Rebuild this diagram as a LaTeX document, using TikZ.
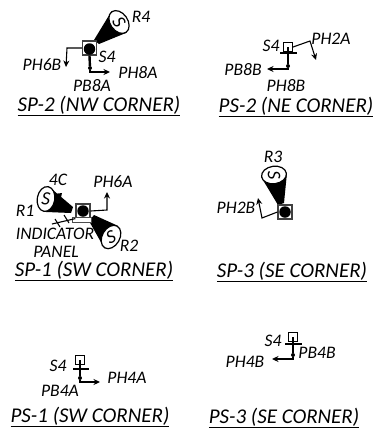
\documentclass[tikz,border=0pt]{standalone}
\usepackage{fontspec}
\setmainfont{Carlito}
\usetikzlibrary{shapes.geometric,backgrounds,arrows.meta}
\tikzset{
  lbl/.style={font=\fontsize{17.6}{19}\selectfont\itshape,inner sep=0pt},
  ttl/.style={font=\fontsize{21}{23}\selectfont\itshape,inner sep=0pt},
  sbig/.style={draw=black!75,line width=1.2pt,minimum size=14pt,inner sep=0pt},
  ssmall/.style={draw=black,line width=1.1pt,minimum size=9pt,inner sep=0pt},
  hole/.style={circle,fill=black,minimum size=11.5pt,inner sep=0pt},
  joint/.style={circle,fill=black,minimum size=4pt,inner sep=0pt},
  horn/.style={ellipse,draw=black,fill=white,line width=1.2pt,minimum width=25pt,minimum height=17.5pt,inner sep=0pt},
  hornS/.style={font=\fontsize{19}{19}\selectfont\itshape,inner sep=0pt},
  wire/.style={draw=black,line width=1.1pt},
  fat/.style={draw=black,line width=2.4pt},
}
\begin{document}
\begin{tikzpicture}[x=1pt,y=-1pt,>={Stealth[length=6.5pt,width=6pt]}]
  \useasboundingbox (0,0) rectangle (374,432);
  % SP-2
  \node[sbig] (sp2) at (89.5,48) {};
  \node[hole] (sp2h) at (89.5,49) {};
  \node[horn,rotate=-55] (r4h) at (119,22) {};
  \node[hornS,rotate=-60] (r4s) at (119,22) {S};
  \coordinate (r4a) at (94,40);
  \coordinate (r4b) at (99,44);
  \begin{scope}[on background layer]
    \fill (r4h.east) -- (r4b) -- (r4a) -- (r4h.west) -- cycle;
  \end{scope}
  \coordinate (ph6bb) at (67,48);
  \coordinate (ph6be) at (66,67);
  \draw[wire,->] (sp2.west) -- (ph6bb) -- (ph6be);
  \node[joint] (sp2j) at (90,68) {};
  \coordinate (ph8ae) at (110,72);
  \draw[fat] (sp2.south) -- (sp2j);
  \draw[wire,->] (sp2j) |- (ph8ae);
  \node[lbl] (r4) at (141,17) {R4};
  \node[lbl] (s4a) at (107,57) {S4};
  \node[lbl] (ph6b) at (42,65) {PH6B};
  \node[lbl] (ph8a) at (138,73) {PH8A};
  \node[lbl] (pb8a) at (92,86) {PB8A};
  \node[ttl] (t1) at (99,106) {\underline{SP-2 (NW CORNER)}};
  % PS-2
  \node[ssmall] (ps2) at (288,47) {};
  \coordinate (ps2b) at (280,53);
  \coordinate (ps2c) at (297,53);
  \draw[wire] (ps2b) -- (ps2c);
  \node[joint] (ps2j) at (288,66) {};
  \coordinate (pb8be) at (267,69);
  \draw[fat] (ps2.center) -- (ps2j);
  \draw[wire,->] (ps2j) |- (pb8be);
  \coordinate (ph2ab) at (310,41);
  \coordinate (ph2ae) at (316,60);
  \draw[wire,->] (ps2.east) -- (ph2ab) -- (ph2ae);
  \node[lbl] (s4b) at (271,46) {S4};
  \node[lbl] (ph2a) at (331,39) {PH2A};
  \node[lbl] (pb8b) at (243,70) {PB8B};
  \node[lbl] (ph8b) at (286,86) {PH8B};
  \node[ttl] (t2) at (296,107) {\underline{PS-2 (NE CORNER)}};
  % SP-1
  \node[sbig] (sp1) at (83,211) {};
  \node[hole] (sp1h) at (83,211) {};
  \node[draw=black!70,fill=white,line width=1.1pt,minimum width=19pt,minimum height=5pt,inner sep=0pt] (panel) at (82,220) {};
  \node[horn,rotate=80] (r1h) at (46,199) {};
  \node[hornS,rotate=-5] (r1s) at (46,199) {S};
  \node[horn,rotate=60] (r2h) at (111,237) {};
  \node[hornS,rotate=25] (r2s) at (111,237) {S};
  \coordinate (r1a) at (73,207);
  \coordinate (r1b) at (71,213);
  \coordinate (r2a) at (94,215);
  \coordinate (r2b) at (89,221);
  \coordinate (c4a) at (54,194);
  \coordinate (c4b) at (62,193);
  \coordinate (c4c) at (60,202);
  \begin{scope}[on background layer]
    \fill (r1h.east) -- (r1a) -- (r1b) -- (r1h.west) -- cycle;
    \fill (r2h.east) -- (r2a) -- (r2b) -- (r2h.west) -- cycle;
    \fill (c4a) -- (c4b) -- (c4c) -- cycle;
  \end{scope}
  \coordinate (pnle) at (52,224);
  \draw[wire] (sp1.south west) -- (pnle);
  \draw[wire] (55,219) -- (60,227);
  \draw[wire] (64,215) -- (69,223);
  \coordinate (ph6ab) at (107,210);
  \coordinate (ph6ae) at (107,192);
  \draw[wire,->] (sp1.east) -- (ph6ab) -- (ph6ae);
  \node[lbl] (c4) at (58,180) {4C};
  \node[lbl] (ph6a) at (113,182) {PH6A};
  \node[lbl] (r1) at (25,211) {R1};
  \node[lbl] (ind) at (55,234) {INDICATOR};
  \node[lbl] (pnl) at (56,252) {PANEL};
  \node[lbl] (r2) at (129,246) {R2};
  \node[ttl] (t3) at (94,271) {\underline{SP-1 (SW CORNER)}};
  % SP-3
  \node[sbig] (sp3) at (285,212) {};
  \node[hole] (sp3h) at (285,212) {};
  \node[horn,rotate=8] (r3h) at (274,175) {};
  \node[hornS,rotate=-85] (r3s) at (274,175) {S};
  \coordinate (r3a) at (284,203);
  \coordinate (r3b) at (278,205);
  \begin{scope}[on background layer]
    \fill (r3h.east) -- (r3a) -- (r3b) -- (r3h.west) -- cycle;
  \end{scope}
  \coordinate (ph2bb) at (262,218);
  \coordinate (ph2be) at (258,198);
  \draw[wire,->] (sp3.west) -- (ph2bb) -- (ph2be);
  \node[lbl] (r3) at (273,157) {R3};
  \node[lbl] (ph2b) at (236,208) {PH2B};
  \node[ttl] (t4) at (292,272) {\underline{SP-3 (SE CORNER)}};
  % PS-1
  \node[ssmall] (ps1) at (80,360) {};
  \coordinate (ps1b) at (73,369);
  \coordinate (ps1c) at (89,369);
  \draw[wire] (ps1b) -- (ps1c);
  \node[joint] (ps1j) at (80,378) {};
  \coordinate (ph4ae) at (100,382);
  \draw[fat] (ps1.center) -- (ps1j);
  \draw[wire,->] (ps1j) |- (ph4ae);
  \node[lbl] (s4c) at (58,366) {S4};
  \node[lbl] (pb4a) at (60,391) {PB4A};
  \node[lbl] (ph4a) at (127,378) {PH4A};
  \node[ttl] (t5) at (90,417) {\underline{PS-1 (SW CORNER)}};
  % PS-3
  \node[ssmall] (ps3) at (293,337) {};
  \coordinate (ps3b) at (285,344);
  \coordinate (ps3c) at (302,344);
  \draw[wire] (ps3b) -- (ps3c);
  \node[joint] (ps3j) at (293,355) {};
  \coordinate (ph4be) at (272,359);
  \draw[fat] (ps3.center) -- (ps3j);
  \draw[wire,->] (ps3j) |- (ph4be);
  \node[lbl] (s4d) at (273,341) {S4};
  \node[lbl] (pb4b) at (317,353) {PB4B};
  \node[lbl] (ph4b) at (245,362) {PH4B};
  \node[ttl] (t6) at (284,418) {\underline{PS-3 (SE CORNER)}};
\end{tikzpicture}
\end{document}
